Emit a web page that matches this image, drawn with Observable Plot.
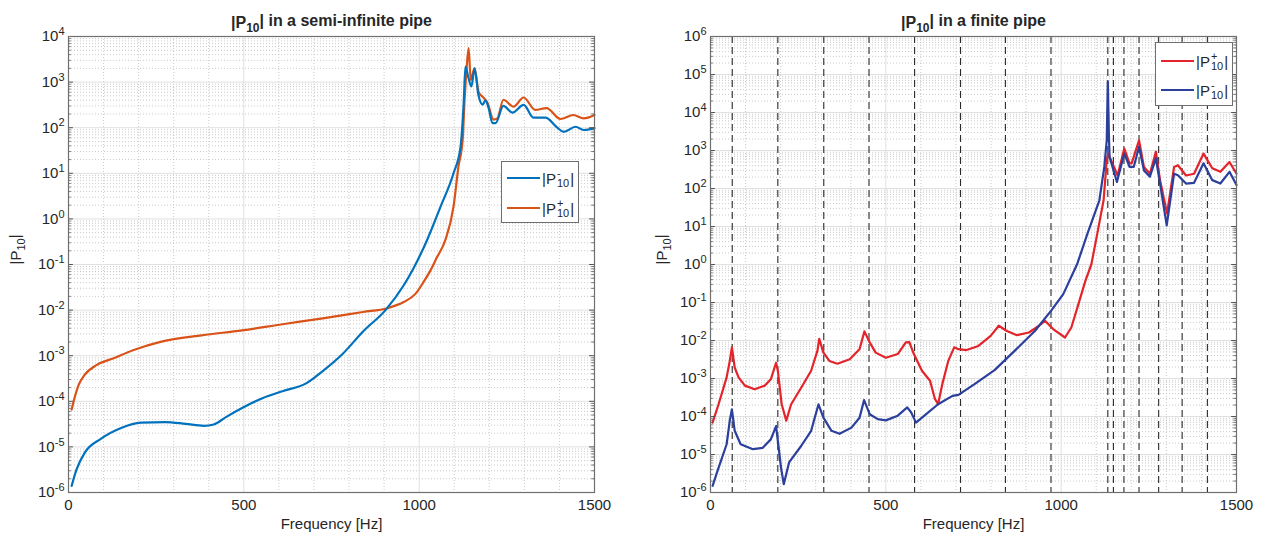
<!DOCTYPE html>
<html><head><meta charset="utf-8">
<script src="https://cdn.jsdelivr.net/npm/d3@7"></script>
<script src="https://cdn.jsdelivr.net/npm/@observablehq/plot@0.6"></script>
<style>
body{margin:0;background:#fff;font-family:"Liberation Sans",Arial,sans-serif;}
#wrap{position:relative;width:1263px;height:542px;overflow:hidden;background:#fff}
.panel{position:absolute;top:0}
.legend{position:absolute;background:#fff;border:1px solid #6f6f6f;box-sizing:border-box;color:#262626;font-size:15px}
.row{position:absolute;left:0;height:20px;display:flex;align-items:center;white-space:nowrap}
.sw{height:2px;margin-right:2px}
.ss{display:inline-flex;flex-direction:column;font-size:11px;line-height:10px;vertical-align:-7px;margin:0 1px}
</style></head>
<body><div id="wrap"></div>
<script>
// ---- data ----
const xTicks = [0, 500, 1000, 1500];
const yTicksSemi = [1e-6, 1e-5, 1e-4, 1e-3, 1e-2, 1e-1, 1e0, 1e1, 1e2, 1e3, 1e4];
const yTicksFinite = [1e-6, 1e-5, 1e-4, 1e-3, 1e-2, 1e-1, 1e0, 1e1, 1e2, 1e3, 1e4, 1e5, 1e6];

// semi-infinite pipe, |P-10|
const semiMinusF = [9, 23, 46, 92, 150, 207, 276, 334, 386, 414, 449, 495, 553, 610, 679, 725, 783, 840, 904, 956, 984, 1023, 1061, 1098, 1118, 1127, 1132, 1140, 1149, 1158, 1169, 1181, 1189, 1198, 1209, 1218, 1240, 1266, 1298, 1326, 1360, 1394, 1412, 1446, 1469, 1500];
const semiMinusV = [1.4e-6, 3.2e-6, 7.4e-6, 1.5e-5, 2.6e-5, 3.4e-5, 3.5e-5, 3.2e-5, 2.9e-5, 3.1e-5, 4.5e-5, 7.1e-5, 1.17e-4, 1.66e-4, 2.5e-4, 4.6e-4, 1.12e-3, 3.4e-3, 1.0e-2, 3.5e-2, 8.3e-2, 0.35, 1.86, 10, 38, 350, 2200, 1300, 800, 2000, 520, 320, 400, 270, 126, 126, 300, 214, 316, 166, 166, 100, 81, 105, 89, 98];
// semi-infinite pipe, |P+10|
const semiPlusF = [9, 17, 29, 46, 81, 127, 184, 265, 380, 495, 610, 725, 840, 909, 956, 990, 1013, 1030, 1050, 1075, 1098, 1112, 1124, 1130, 1135, 1141, 1147, 1158, 1169, 1184, 1195, 1212, 1223, 1240, 1269, 1298, 1331, 1363, 1403, 1440, 1469, 1500];
const semiPlusV = [6.6e-5, 1.17e-4, 2.3e-4, 3.8e-4, 6.3e-4, 8.7e-4, 1.32e-3, 2.04e-3, 2.8e-3, 3.6e-3, 4.9e-3, 6.6e-3, 9.1e-3, 1.1e-2, 1.5e-2, 2.3e-2, 4.2e-2, 6.9e-2, 0.14, 0.35, 1.86, 14, 54, 480, 1860, 5600, 1120, 2040, 620, 450, 350, 150, 160, 410, 290, 460, 245, 270, 155, 190, 160, 190];

// finite pipe, |P+10|
const finPlusF = [6, 23, 46, 55, 61, 69, 80, 98, 126, 155, 172, 187, 192, 203, 216, 230, 259, 287, 305, 310, 322, 339, 362, 397, 425, 439, 454, 471, 500, 534, 557, 567, 580, 603, 626, 640, 649, 661, 678, 695, 707, 730, 764, 799, 822, 845, 874, 908, 937, 954, 977, 1011, 1029, 1052, 1069, 1086, 1103, 1121, 1130, 1134, 1138, 1155, 1161, 1180, 1195, 1201, 1222, 1236, 1253, 1270, 1282, 1302, 1322, 1333, 1356, 1379, 1406, 1431, 1454, 1480, 1500];
const finPlusV = [6.9e-5, 2.1e-4, 1.07e-3, 2.9e-3, 6.6e-3, 1.95e-3, 1.07e-3, 6.5e-4, 5.2e-4, 6.5e-4, 9.5e-4, 2.6e-3, 1.6e-3, 2.1e-4, 7.8e-5, 2.1e-4, 5.8e-4, 1.6e-3, 5.4e-3, 1.1e-2, 4.8e-3, 2.9e-3, 2.45e-3, 3.2e-3, 5.9e-3, 1.74e-2, 8.9e-3, 4.8e-3, 3.5e-3, 4.4e-3, 8.9e-3, 9.1e-3, 4.4e-3, 1.6e-3, 8.7e-4, 2.9e-4, 2.1e-4, 7.1e-4, 2.9e-3, 6.6e-3, 5.9e-3, 5.6e-3, 7.2e-3, 1.32e-2, 2.45e-2, 1.78e-2, 1.38e-2, 1.62e-2, 2.45e-2, 3.3e-2, 2.0e-2, 1.2e-2, 2.2e-2, 0.11, 0.37, 1.0, 6.5, 49, 560, 830, 680, 300, 220, 1120, 460, 460, 1860, 370, 245, 930, 166, 22, 370, 410, 220, 245, 830, 340, 275, 500, 245];
// finite pipe, |P-10|
const finMinusF = [6, 20, 46, 55, 61, 69, 86, 121, 149, 172, 187, 192, 201, 209, 224, 259, 287, 308, 322, 345, 368, 402, 425, 438, 454, 477, 500, 534, 561, 572, 586, 615, 649, 690, 707, 753, 810, 868, 925, 971, 1006, 1046, 1075, 1109, 1123, 1130, 1133, 1136, 1138, 1159, 1180, 1195, 1207, 1222, 1236, 1253, 1270, 1282, 1301, 1322, 1333, 1356, 1379, 1406, 1431, 1454, 1480, 1500];
const finMinusV = [1.5e-6, 3.7e-6, 1.86e-5, 7.8e-5, 1.55e-4, 4.2e-5, 1.86e-5, 1.38e-5, 1.5e-5, 2.5e-5, 5.6e-5, 2.3e-5, 4.6e-6, 1.66e-6, 6.2e-6, 1.7e-5, 4.2e-5, 2.1e-4, 9.3e-5, 4.2e-5, 3.5e-5, 5.1e-5, 9.3e-5, 2.7e-4, 1.15e-4, 8.5e-5, 7.9e-5, 1.05e-4, 1.74e-4, 1.29e-4, 6.9e-5, 1.15e-4, 2.1e-4, 3.5e-4, 3.7e-4, 7.1e-4, 1.66e-3, 5.4e-3, 1.78e-2, 6.0e-2, 0.166, 1.05, 6.5, 49, 370, 1860, 65000, 2800, 680, 148, 830, 370, 370, 1260, 300, 205, 620, 135, 10.7, 245, 224, 135, 141, 460, 166, 135, 275, 123];

// resonance frequencies (dashed lines), finite pipe
const resonanceF = [62, 192, 323, 452, 582, 713, 841, 971, 1133, 1149, 1179, 1222, 1278, 1345, 1417];

// ---- drawing ----
const toRows = (F, V) => F.map((f, i) => ({f, v: V[i]}));
const minorX = d3.range(100, 1500, 100).filter(d => d % 500 !== 0);
function minorYFor(ticks) {
  const out = [];
  for (const t of ticks.slice(0, -1)) for (let k = 2; k <= 9; k++) out.push(t * k);
  return out;
}
const supFmt = d => "10^" + Math.round(Math.log10(d));

function makePanel({width, marginLeft, marginRight, yTicks, lines, dashed, title, ylabelDx}) {
  const minorY = minorYFor(yTicks);
  const marks = [
    Plot.ruleX(minorX, {stroke: "#bdbdbd", strokeDasharray: "1,2", strokeWidth: 0.8}),
    Plot.ruleY(minorY, {stroke: "#bdbdbd", strokeDasharray: "1,2", strokeWidth: 0.8}),
    Plot.ruleX(xTicks.slice(1, -1), {stroke: "#e0e0e0", strokeWidth: 1}),
    Plot.ruleY(yTicks.slice(1, -1), {stroke: "#e0e0e0", strokeWidth: 1}),
  ];
  if (dashed) marks.push(Plot.ruleX(dashed, {stroke: "#2a2a2a", strokeDasharray: "7,4", strokeWidth: 1.1}));
  for (const L of lines) {
    marks.push(Plot.line(toRows(L.f, L.v), {x: "f", y: "v", stroke: L.color, strokeWidth: 2.2, curve: L.curve || "linear"}));
  }
  marks.push(
    Plot.ruleY(minorY, {x1: 0, x2: 8, stroke: "#555", strokeWidth: 0.8}),
    Plot.ruleY(minorY, {x1: 1492, x2: 1500, stroke: "#555", strokeWidth: 0.8}),
    Plot.ruleY(yTicks, {x1: 0, x2: 14, stroke: "#555", strokeWidth: 1}),
    Plot.ruleY(yTicks, {x1: 1486, x2: 1500, stroke: "#555", strokeWidth: 1}),
    Plot.frame({stroke: "#6f6f6f", strokeWidth: 1.2}),
    Plot.axisX({ticks: xTicks, tickSize: 0, tickPadding: 7, label: null, tickFormat: d => String(d), fontSize: 15}),
    Plot.axisY({ticks: yTicks, tickSize: 0, tickPadding: 4, label: null, tickFormat: supFmt, fontSize: 15}),
    Plot.text(["Frequency [Hz]"], {text: d => d, frameAnchor: "bottom", dy: 36, fontSize: 15}),
    Plot.text(["|P10|"], {text: d => d, frameAnchor: "left", dx: ylabelDx, rotate: -90, fontSize: 15}),
    Plot.text([title], {text: d => d, frameAnchor: "top", dy: -20, fontSize: 16, fontWeight: "bold"})
  );
  const svg = Plot.plot({
    width, height: 542, marginTop: 36, marginBottom: 50, marginLeft, marginRight,
    x: {domain: [0, 1500]},
    y: {type: "log", domain: [yTicks[0], yTicks[yTicks.length - 1]]},
    style: {fontFamily: "'Liberation Sans', Arial, sans-serif", fontSize: "15px", color: "#262626", background: "transparent", overflow: "visible"},
    marks
  });
  svg.querySelectorAll("text").forEach(t => {
    const s = t.textContent;
    const m = /^10\^(-?\d+)$/.exec(s);
    if (m) {
      t.innerHTML = `10<tspan dy="-0.55em" font-size="11px">${m[1]}</tspan>`;
    } else if (s === "|P10|") {
      t.innerHTML = `|P<tspan dy="0.35em" font-size="11px">10</tspan><tspan dy="-0.35em">|</tspan>`;
    } else if (s.startsWith("|P10| ")) {
      const rest = s.slice(5);
      t.innerHTML = `|P<tspan dy="0.38em" font-size="12px">10</tspan><tspan dy="-0.38em">|${rest}</tspan>`;
    }
  });
  return svg;
}

const wrap = document.getElementById("wrap");
const left = makePanel({
  width: 632, marginLeft: 68, marginRight: 38, yTicks: yTicksSemi,
  lines: [
    {f: semiPlusF, v: semiPlusV, color: "#D95319", curve: "monotone-x"},
    {f: semiMinusF, v: semiMinusV, color: "#0072BD", curve: "monotone-x"}
  ],
  title: "|P10| in a semi-infinite pipe", ylabelDx: -52
});
left.classList.add("panel"); left.style.left = "0px";
wrap.appendChild(left);

const right = makePanel({
  width: 631, marginLeft: 78, marginRight: 27, yTicks: yTicksFinite,
  lines: [
    {f: finPlusF, v: finPlusV, color: "#E3242B"},
    {f: finMinusF, v: finMinusV, color: "#2B3F9C"}
  ],
  dashed: resonanceF,
  title: "|P10| in a finite pipe", ylabelDx: -48
});
right.classList.add("panel"); right.style.left = "632px";
wrap.appendChild(right);

// legends
function legend(box, entries) {
  const d = document.createElement("div");
  d.className = "legend";
  Object.assign(d.style, {left: box.x + "px", top: box.y + "px", width: box.w + "px", height: box.h + "px"});
  entries.forEach((e) => {
    const r = document.createElement("div");
    r.className = "row";
    r.style.top = (e.cy - 10) + "px";
    r.style.left = "5px";
    r.innerHTML = `<span class="sw" style="width:${e.sw}px;background:${e.color}"></span>|P<span class="ss"><span>${e.sign}</span><span>10</span></span>|`;
    d.appendChild(r);
  });
  wrap.appendChild(d);
}
legend({x: 501, y: 161, w: 78, h: 62}, [
  {color: "#0072BD", sign: "-", cy: 16, sw: 33},
  {color: "#D95319", sign: "+", cy: 46, sw: 33}
]);
legend({x: 1155, y: 42, w: 78, h: 64}, [
  {color: "#E3242B", sign: "+", cy: 18, sw: 33},
  {color: "#2B3F9C", sign: "-", cy: 47, sw: 33}
]);
</script>
</body></html>
